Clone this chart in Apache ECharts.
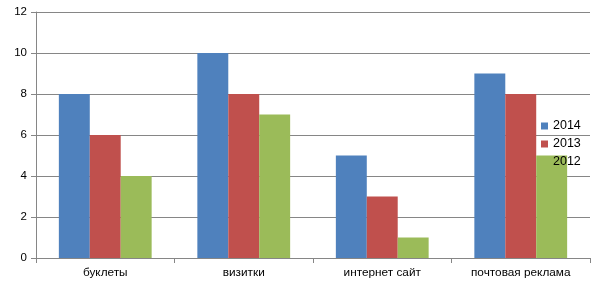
<!DOCTYPE html>
<html><head><meta charset="utf-8">
<script src="https://cdn.jsdelivr.net/npm/echarts@6/dist/echarts.min.js"></script>
<style>html,body{margin:0;padding:0;background:#fff}#c{width:602px;height:286px}</style>
</head><body><div id="c"></div>
<script>
const categories = ['буклеты', 'визитки', 'интернет сайт', 'почтовая реклама'];
const s2014 = [8, 10, 5, 9];
const s2013 = [6, 8, 3, 8];
const s2012 = [4, 7, 1, 5];
const seriesNames = ['2014', '2013', '2012'];
const colors = ['#4F81BD', '#C0504D', '#9BBB59'];

const chart = echarts.init(document.getElementById('c'), null, {renderer: 'canvas'});
const font = 'Liberation Sans, Arial, sans-serif';
chart.setOption({
  animation: false,
  color: colors,
  grid: {left: 36, right: 12, top: 12, bottom: 28, containLabel: false},
  legend: {
    orient: 'vertical', left: 536, top: 114,
    itemWidth: 7, itemHeight: 7, itemGap: 4,
    icon: 'rect',
    textStyle: {fontFamily: font, fontSize: 12.5, color: '#000', lineHeight: 14},
    data: seriesNames
  },
  xAxis: {
    type: 'category', data: categories,
    axisLine: {lineStyle: {color: '#868686'}},
    axisTick: {show: true, length: 5, lineStyle: {color: '#868686'}},
    axisLabel: {fontFamily: font, fontSize: 11.8, color: '#000', margin: 9}
  },
  yAxis: {
    type: 'value', min: 0, max: 12, interval: 2,
    axisLine: {show: true, lineStyle: {color: '#868686'}},
    axisTick: {show: true, length: 5, lineStyle: {color: '#868686'}},
    splitLine: {lineStyle: {color: '#868686'}},
    axisLabel: {fontFamily: font, fontSize: 11.5, color: '#000', margin: 9}
  },
  series: [
    {name: seriesNames[0], type: 'bar', data: s2014, barGap: '0%', barCategoryGap: '33%'},
    {name: seriesNames[1], type: 'bar', data: s2013, barGap: '0%', barCategoryGap: '33%'},
    {name: seriesNames[2], type: 'bar', data: s2012, barGap: '0%', barCategoryGap: '33%'}
  ]
});
</script></body></html>
